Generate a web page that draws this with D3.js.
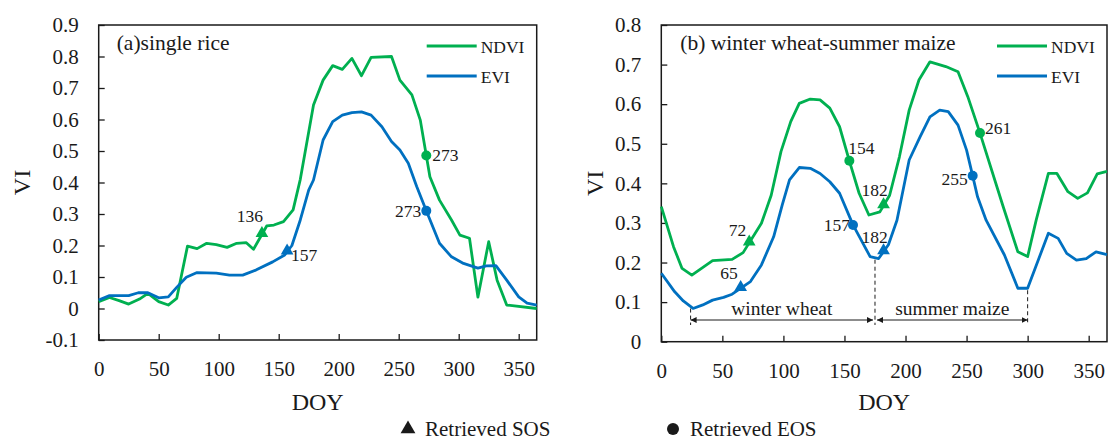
<!DOCTYPE html>
<html>
<head>
<meta charset="utf-8">
<script src="https://cdn.jsdelivr.net/npm/d3@7"></script>
<style>
  html, body { margin: 0; padding: 0; background: #fff; }
  svg { display: block; }
  svg text { font-family: "Liberation Serif", "Times New Roman", serif !important; }
</style>
</head>
<body>
<svg id="chart" width="1108" height="439"></svg>
<script>
// ---- (a) single rice: day of year and vegetation index ----
const riceNdviDoy = [0, 9, 17, 25, 34, 41, 50, 58, 65, 74, 82, 90, 98, 107, 115, 123, 129, 140, 146, 154, 162, 168, 179, 187, 195, 203, 211, 219, 227, 244, 251, 261, 268, 276, 284, 294, 301, 309, 316, 325, 332, 340, 365];
const riceNdvi    = [0.022, 0.035, 0.025, 0.014, 0.030, 0.048, 0.022, 0.011, 0.032, 0.198, 0.190, 0.207, 0.203, 0.194, 0.207, 0.209, 0.188, 0.262, 0.265, 0.276, 0.313, 0.410, 0.646, 0.725, 0.771, 0.759, 0.794, 0.739, 0.797, 0.800, 0.725, 0.678, 0.598, 0.418, 0.344, 0.281, 0.233, 0.223, 0.036, 0.212, 0.090, 0.011, 0.000];
const riceEviDoy  = [0, 9, 25, 33, 41, 50, 58, 65, 73, 82, 98, 109, 120, 131, 145, 155, 161, 168, 175, 179, 187, 195, 203, 211, 219, 227, 236, 244, 251, 258, 265, 273, 284, 294, 304, 316, 323, 331, 340, 350, 357, 365];
const riceEvi     = [0.027, 0.041, 0.041, 0.050, 0.050, 0.034, 0.037, 0.067, 0.099, 0.114, 0.112, 0.106, 0.106, 0.122, 0.148, 0.170, 0.200, 0.281, 0.376, 0.408, 0.535, 0.593, 0.614, 0.622, 0.624, 0.614, 0.577, 0.530, 0.503, 0.461, 0.387, 0.310, 0.207, 0.164, 0.143, 0.128, 0.135, 0.136, 0.090, 0.037, 0.017, 0.011];
const riceSos = { ndvi: 136, evi: 157 };
const riceEos = { ndvi: 273, evi: 273 };

// ---- (b) winter wheat-summer maize ----
const wmNdviDoy = [0, 10, 17, 25, 42, 58, 67, 82, 90, 98, 106, 113, 122, 130, 138, 146, 154, 162, 170, 179, 187, 195, 203, 211, 220, 233, 243, 251, 261, 280, 292, 300, 307, 317, 324, 333, 341, 349, 357, 365];
const wmNdvi    = [0.341, 0.240, 0.185, 0.168, 0.205, 0.208, 0.225, 0.299, 0.370, 0.480, 0.556, 0.602, 0.613, 0.611, 0.590, 0.543, 0.457, 0.375, 0.320, 0.328, 0.370, 0.467, 0.585, 0.661, 0.707, 0.695, 0.682, 0.619, 0.527, 0.341, 0.227, 0.215, 0.307, 0.425, 0.425, 0.379, 0.362, 0.376, 0.424, 0.430];
const wmEviDoy  = [0, 11, 18, 26, 34, 42, 51, 58, 73, 82, 92, 99, 105, 113, 122, 130, 138, 146, 157, 171, 178, 186, 193, 203, 212, 220, 228, 235, 243, 250, 255, 259, 266, 281, 292, 300, 317, 325, 332, 340, 348, 356, 365];
const wmEvi     = [0.173, 0.126, 0.103, 0.084, 0.093, 0.105, 0.112, 0.120, 0.152, 0.194, 0.265, 0.345, 0.409, 0.440, 0.438, 0.425, 0.404, 0.375, 0.295, 0.215, 0.210, 0.245, 0.307, 0.459, 0.518, 0.568, 0.585, 0.581, 0.547, 0.484, 0.419, 0.366, 0.307, 0.219, 0.135, 0.135, 0.274, 0.261, 0.223, 0.206, 0.210, 0.227, 0.220];
const wmSos = { ndvi: [72, 182], evi: [65, 182] };
const wmEos = { ndvi: [154, 261], evi: [157, 255] };
const seasonBounds = [24, 175, 300];
const seasonNames = ["winter wheat", "summer maize"];

const xTicks = [0, 50, 100, 150, 200, 250, 300, 350];
const riceYTicks = [-0.1, 0, 0.1, 0.2, 0.3, 0.4, 0.5, 0.6, 0.7, 0.8, 0.9];
const wmYTicks = [0, 0.1, 0.2, 0.3, 0.4, 0.5, 0.6, 0.7, 0.8];

const GREEN = "#00b050";
const BLUE = "#0070c0";
const INK = "#1a1a1a";

const svg = d3.select("#chart");

// arrowheads for the season span markers
const defs = svg.append("defs");
defs.append("marker")
  .attr("id", "arrowEnd").attr("viewBox", "0 0 10 10")
  .attr("refX", 10).attr("refY", 5)
  .attr("markerWidth", 6).attr("markerHeight", 7)
  .attr("markerUnits", "userSpaceOnUse")
  .attr("orient", "auto")
  .append("path").attr("d", "M0,0 L10,5 L0,10 Z").attr("fill", INK);
defs.append("marker")
  .attr("id", "arrowStart").attr("viewBox", "0 0 10 10")
  .attr("refX", 0).attr("refY", 5)
  .attr("markerWidth", 6).attr("markerHeight", 7)
  .attr("markerUnits", "userSpaceOnUse")
  .attr("orient", "auto")
  .append("path").attr("d", "M10,0 L0,5 L10,10 Z").attr("fill", INK);

function zip(doy, v) { return doy.map((d, i) => ({ doy: d, v: v[i] })); }

// value of a series at a given DOY, read along the drawn polyline
function valueAt(doy, vals, d) {
  const i = d3.bisectRight(doy, d);
  if (i <= 0) return vals[0];
  if (i >= doy.length) return vals[vals.length - 1];
  const t = (d - doy[i - 1]) / (doy[i] - doy[i - 1]);
  return vals[i - 1] + t * (vals[i] - vals[i - 1]);
}

const fmtY = d => d === 0 ? "0" : d3.format(".1f")(d).replace("\u2212", "-");

function panel(cfg) {
  const x = d3.scaleLinear().domain([0, 365]).range([cfg.left, cfg.right]);
  const y = d3.scaleLinear().domain(cfg.yDomain).range([cfg.bottom, cfg.top]);
  const g = svg.append("g");

  // axes with inward ticks
  const xAxis = d3.axisBottom(x).tickValues(xTicks).tickSize(-6).tickPadding(21).tickFormat(d3.format("d"));
  const yAxis = d3.axisLeft(y).tickValues(cfg.yTicks).tickSize(-6).tickPadding(20).tickFormat(fmtY);

  const gx = g.append("g").attr("transform", `translate(0,${cfg.bottom})`).call(xAxis);
  const gy = g.append("g").attr("transform", `translate(${cfg.left},0)`).call(yAxis);
  [gx, gy].forEach(a => {
    a.attr("font-family", null).attr("font-size", null);
    a.select(".domain").remove();
    a.selectAll(".tick line").attr("stroke", INK).attr("stroke-width", 1.3);
    a.selectAll(".tick text").attr("fill", INK).attr("font-size", 21);
  });

  // frame
  g.append("rect")
    .attr("x", cfg.left).attr("y", cfg.top)
    .attr("width", cfg.right - cfg.left).attr("height", cfg.bottom - cfg.top)
    .attr("fill", "none").attr("stroke", INK).attr("stroke-width", 1.5);

  // axis titles
  g.append("text").attr("x", (cfg.left + cfg.right) / 2).attr("y", 410)
    .attr("text-anchor", "middle").attr("font-size", 24).attr("fill", INK).text("DOY");
  g.append("text")
    .attr("transform", `translate(${cfg.viX},${(cfg.top + cfg.bottom) / 2}) rotate(-90)`)
    .attr("text-anchor", "middle").attr("font-size", 24).attr("fill", INK).text("VI");

  // panel title
  g.append("text").attr("x", cfg.left + cfg.titleDx).attr("y", 50)
    .attr("font-size", 21.5).attr("fill", INK).text(cfg.title);

  // series
  const line = d3.line().x(d => x(d.doy)).y(d => y(d.v));
  g.append("path").datum(zip(cfg.ndviDoy, cfg.ndvi)).attr("d", line)
    .attr("fill", "none").attr("stroke", GREEN).attr("stroke-width", 2.8).attr("stroke-linejoin", "round");
  g.append("path").datum(zip(cfg.eviDoy, cfg.evi)).attr("d", line)
    .attr("fill", "none").attr("stroke", BLUE).attr("stroke-width", 2.8).attr("stroke-linejoin", "round");

  // inner legend
  const lx = cfg.right - 110;
  [["NDVI", GREEN, 46], ["EVI", BLUE, 76]].forEach(([name, c, ly]) => {
    g.append("line").attr("x1", lx).attr("x2", lx + 50).attr("y1", ly).attr("y2", ly)
      .attr("stroke", c).attr("stroke-width", 3);
    g.append("text").attr("x", lx + 54).attr("y", ly + 6.5).attr("font-size", 17.5)
      .attr("fill", INK).text(name);
  });

  const tri = d3.symbol().type(d3.symbolTriangle).size(70);

  // phenology markers with DOY labels
  cfg.marks.forEach(m => {
    const isNdvi = m.series === "ndvi";
    const v = isNdvi ? valueAt(cfg.ndviDoy, cfg.ndvi, m.doy) : valueAt(cfg.eviDoy, cfg.evi, m.doy);
    const px = x(m.doy), py = y(v);
    const c = isNdvi ? GREEN : BLUE;
    if (m.kind === "sos") {
      g.append("path").attr("d", tri).attr("transform", `translate(${px},${py - 1})`).attr("fill", c);
    } else {
      g.append("circle").attr("cx", px).attr("cy", py).attr("r", 5).attr("fill", c);
    }
    g.append("text").attr("x", px + m.dx).attr("y", py + m.dy)
      .attr("text-anchor", m.anchor).attr("font-size", 17.5).attr("fill", INK).text(m.doy);
  });

  return { g, x, y };
}

// ---- (a) ----
panel({
  left: 98.7, right: 536.7, top: 25, bottom: 340,
  yDomain: [-0.1, 0.9], yTicks: riceYTicks, viX: 30,
  title: "(a)single rice", titleDx: 18,
  ndviDoy: riceNdviDoy, ndvi: riceNdvi, eviDoy: riceEviDoy, evi: riceEvi,
  marks: [
    { series: "ndvi", kind: "sos", doy: riceSos.ndvi, dx: 1, dy: -12, anchor: "end" },
    { series: "evi",  kind: "sos", doy: riceSos.evi,  dx: 4, dy: 9, anchor: "start" },
    { series: "ndvi", kind: "eos", doy: riceEos.ndvi, dx: 6, dy: 5, anchor: "start" },
    { series: "evi",  kind: "eos", doy: riceEos.evi,  dx: -5, dy: 6, anchor: "end" }
  ]
});

// ---- (b) ----
const pb = panel({
  left: 661.3, right: 1107, top: 25, bottom: 341.7,
  yDomain: [0, 0.8], yTicks: wmYTicks, viX: 603,
  title: "(b) winter wheat-summer maize", titleDx: 19,
  ndviDoy: wmNdviDoy, ndvi: wmNdvi, eviDoy: wmEviDoy, evi: wmEvi,
  marks: [
    { series: "ndvi", kind: "sos", doy: wmSos.ndvi[0], dx: -3, dy: -7, anchor: "end" },
    { series: "ndvi", kind: "sos", doy: wmSos.ndvi[1], dx: -9, dy: -10, anchor: "middle" },
    { series: "evi",  kind: "sos", doy: wmSos.evi[0],  dx: -3, dy: -9, anchor: "end" },
    { series: "evi",  kind: "sos", doy: wmSos.evi[1],  dx: -9, dy: -9, anchor: "middle" },
    { series: "ndvi", kind: "eos", doy: wmEos.ndvi[0], dx: -1, dy: -7, anchor: "start" },
    { series: "ndvi", kind: "eos", doy: wmEos.ndvi[1], dx: 5, dy: 1, anchor: "start" },
    { series: "evi",  kind: "eos", doy: wmEos.evi[0],  dx: -3, dy: 6, anchor: "end" },
    { series: "evi",  kind: "eos", doy: wmEos.evi[1],  dx: -5, dy: 9, anchor: "end" }
  ]
});

// season spans: dashed bounds and double arrows
const arrowY = 320;
seasonBounds.forEach(d => {
  const top = pb.y(valueAt(wmEviDoy, wmEvi, d)) + 2;
  pb.g.append("line").attr("x1", pb.x(d)).attr("x2", pb.x(d))
    .attr("y1", top).attr("y2", 325)
    .attr("stroke", INK).attr("stroke-width", 1).attr("stroke-dasharray", "4,3");
});
seasonNames.forEach((name, i) => {
  const x0 = pb.x(seasonBounds[i]) + (i === 0 ? 0 : 2);
  const x1 = pb.x(seasonBounds[i + 1]) - (i === 0 ? 2 : 0);
  pb.g.append("line").attr("x1", x0).attr("x2", x1).attr("y1", arrowY).attr("y2", arrowY)
    .attr("stroke", INK).attr("stroke-width", 1)
    .attr("marker-start", "url(#arrowStart)").attr("marker-end", "url(#arrowEnd)");
  pb.g.append("text").attr("x", (x0 + x1) / 2).attr("y", 314.5)
    .attr("text-anchor", "middle").attr("font-size", 19.5).attr("fill", INK).text(name);
});

// shared legend for the retrieved phenology dates
const leg = svg.append("g");
leg.append("path").attr("d", d3.symbol().type(d3.symbolTriangle).size(95))
  .attr("transform", "translate(408,429)").attr("fill", INK);
leg.append("text").attr("x", 425).attr("y", 435.5).attr("font-size", 21).attr("fill", INK).text("Retrieved SOS");
leg.append("circle").attr("cx", 673).attr("cy", 429).attr("r", 6).attr("fill", INK);
leg.append("text").attr("x", 690).attr("y", 435.5).attr("font-size", 21).attr("fill", INK).text("Retrieved EOS");
</script>
</body>
</html>
